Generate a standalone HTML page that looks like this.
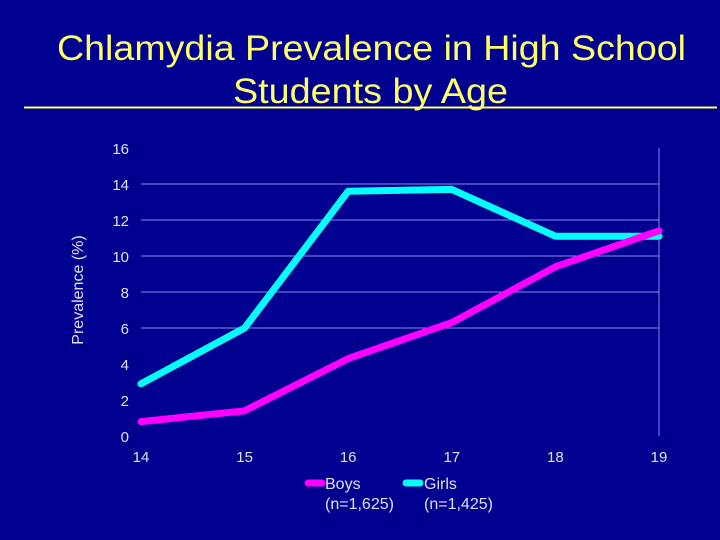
<!DOCTYPE html>
<html><head><meta charset="utf-8"><style>
html,body{margin:0;padding:0;background:#000090;}
svg{display:block;font-family:"Liberation Sans",sans-serif;}
</style></head><body>
<svg width="720" height="540" viewBox="0 0 720 540">
<rect x="0" y="0" width="720" height="540" fill="#000090"/>
<text x="57" y="60" textLength="629" lengthAdjust="spacingAndGlyphs" font-size="35" fill="#ffff66">Chlamydia Prevalence in High School</text>
<text x="233" y="103" textLength="275" lengthAdjust="spacingAndGlyphs" font-size="35" fill="#ffff66">Students by Age</text>
<line x1="24" y1="107.5" x2="717" y2="107.5" stroke="#ffff66" stroke-width="2"/>
<text transform="translate(83,290) rotate(-90)" text-anchor="middle" font-size="16" fill="#e0e0f0">Prevalence (%)</text>
<g id="grid"></g>
<g id="yt"></g>
<g id="xt"></g>
<g id="series"></g>
<g>
<g>
<line x1="308" y1="483" x2="322" y2="483" stroke="#ff00ff" stroke-width="7" stroke-linecap="round"/>
<text x="325" y="489" font-size="16" fill="#e0e0f0">Boys</text>
<text x="325" y="509" font-size="16" fill="#e0e0f0">(n=1,625)</text>
</g>
<g>
<line x1="406" y1="483" x2="420" y2="483" stroke="#00ffff" stroke-width="7" stroke-linecap="round"/>
<text x="424" y="489" font-size="16" fill="#e0e0f0">Girls</text>
<text x="424" y="509" font-size="16" fill="#e0e0f0">(n=1,425)</text>
</g>
</g>
</svg>
<script>
const ages = [14, 15, 16, 17, 18, 19];
const boys = [0.8, 1.4, 4.3, 6.3, 9.4, 11.4];
const girls = [2.9, 6.0, 13.6, 13.7, 11.1, 11.1];
const yTicks = [0, 2, 4, 6, 8, 10, 12, 14, 16];
const gridVals = [6, 8, 10, 12, 14];

const NS = "http://www.w3.org/2000/svg";
const X0 = 141, X1 = 659, Y0 = 436, Y1 = 148;
const xs = i => X0 + (X1 - X0) * i / (ages.length - 1);
const ys = v => Y0 - (Y0 - Y1) * v / 16;
function mk(tag, attrs, parent) {
  const el = document.createElementNS(NS, tag);
  for (const k in attrs) el.setAttribute(k, attrs[k]);
  parent.appendChild(el);
  return el;
}
const grid = document.getElementById('grid');
gridVals.forEach(v => {
  const l = mk('line', {x1: X0, x2: X1, y1: ys(v), y2: ys(v), stroke: '#8888ee', 'stroke-width': 1}, grid);
  
  
});
const vl = mk('line', {x1: X1, x2: X1, y1: Y1, y2: Y0, stroke: '#8888ee', 'stroke-width': 1}, grid);


const yt = document.getElementById('yt');
yTicks.forEach(v => {
  const t = mk('text', {x: 129, y: ys(v) + 6, 'text-anchor': 'end', 'font-size': 15, fill: '#e0e0f0'}, yt);
  t.textContent = v;
  
  
});
const xt = document.getElementById('xt');
ages.forEach((a, i) => {
  const t = mk('text', {x: xs(i), y: 462, 'text-anchor': 'middle', 'font-size': 15, fill: '#e0e0f0'}, xt);
  t.textContent = a;
  
  
});
const sg = document.getElementById('series');
function line(vals, color, name) {
  const pts = vals.map((v, i) => xs(i) + ',' + ys(v)).join(' ');
  const p = mk('polyline', {points: pts, fill: 'none', stroke: color, 'stroke-width': 7, 'stroke-linecap': 'round', 'stroke-linejoin': 'round'}, sg);
  
  
}
line(girls, '#00ffff', 'girls-line');
line(boys, '#ff00ff', 'boys-line');
</script>
</body></html>
